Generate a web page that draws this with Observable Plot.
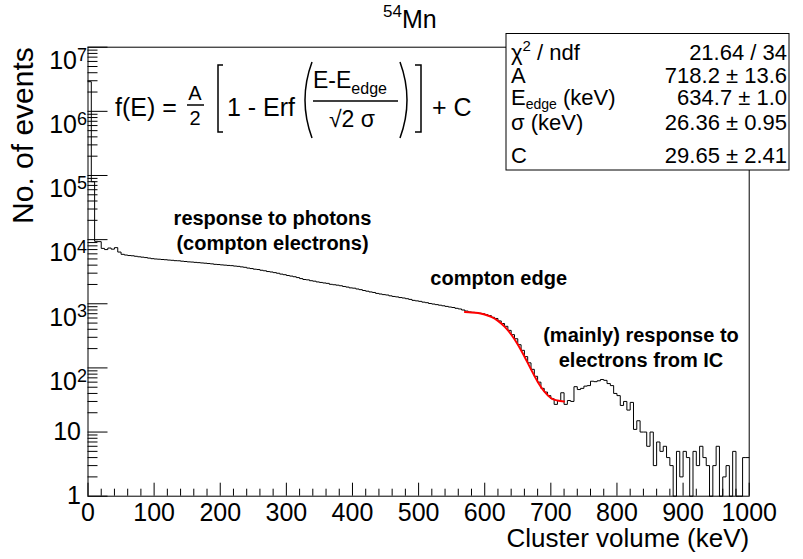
<!DOCTYPE html>
<html><head><meta charset="utf-8">
<script src="https://cdn.jsdelivr.net/npm/d3@7"></script>
<script src="https://cdn.jsdelivr.net/npm/@observablehq/plot@0.6"></script>
<style>
body{margin:0;background:#fff}
#wrap{position:relative;width:803px;height:559px;overflow:hidden;background:#fff}
svg text{font-family:"Liberation Sans",Arial,Helvetica,sans-serif}
</style></head>
<body><div id="wrap"></div>
<script>
// ---- data ----
const binWidth = 5; // keV
const counts = [
 2900000, 80000, 9400, 9300, 7300, 7000, 7400, 7100, 7500, 6400,
 5900, 5750, 5650, 5600, 5500, 5400, 5330, 5250, 5150, 5050,
 4990, 4950, 4900, 4860, 4800, 4760, 4700, 4680, 4610, 4560,
 4500, 4470, 4420, 4380, 4330, 4290, 4240, 4190, 4120, 4090,
 4040, 4000, 3960, 3930, 3870, 3830, 3760, 3700, 3600, 3540,
 3460, 3420, 3330, 3270, 3180, 3130, 3060, 2990, 2900, 2840,
 2760, 2700, 2640, 2560, 2470, 2390, 2360, 2290, 2250, 2190,
 2150, 2110, 2080, 2010, 1980, 1950, 1910, 1860, 1820, 1770,
 1750, 1700, 1660, 1610, 1570, 1530, 1500, 1450, 1420, 1390,
 1370, 1330, 1300, 1280, 1250, 1230, 1200, 1170, 1130, 1110,
 1090, 1060, 1040, 1010, 990, 970, 950, 930, 910, 890,
 875, 850, 830, 800, 770, 745, 735, 728, 712, 700,
 676, 655, 615, 590, 540, 492, 445, 385, 330, 285,
 230, 188, 150, 120, 95, 74, 60, 48, 42, 37,
 33, 27, 31, 41, 27, 31, 30, 51, 46, 48,
 52, 53, 62, 61, 63, 66, 64, 57, 53, 40,
 37, 26, 30, 22, 29, 11, 15, 10, 10, 6,
 10, 3, 7, 5, 6, 4, 3, 0, 5, 2,
 5, 4, 0, 5, 3, 6, 4, 3, 0, 3,
 6, 0, 2, 3, 0, 5, 0, 0, 4, 4
];
// red fit curve f(E), sampled
const fitEnergy = [570, 580, 590, 600, 610, 620, 630, 640, 650, 660, 670, 680, 690, 700, 710, 720];
const fitValue  = [743, 734, 716, 680, 623, 541, 440, 332, 232, 151, 95, 61, 43, 34, 31, 30];

const xTickValues = [0, 100, 200, 300, 400, 500, 600, 700, 800, 900, 1000];
const yTickValues = [1, 10, 100, 1e3, 1e4, 1e5, 1e6, 1e7];

const titleSup = "54", titleMain = "Mn";
const xTitle = "Cluster volume (keV)";
const yTitle = "No. of events";

const statNames = ["χ|2| / ndf", "A", "E_edge_ (keV)", "σ (keV)", "C"];
const statValues = ["21.64 / 34", "718.2 ± 13.6", "634.7 ± 1.0", "26.36 ± 0.95", "29.65 ± 2.41"];

const noteLines1 = ["response to photons", "(compton electrons)"];
const noteLines2 = ["compton edge"];
const noteLines3 = ["(mainly) response to", "electrons from IC"];

// ---- layout ----
const W = 803, H = 559, mL = 87.5, mR = 54.3, mT = 46.7, mB = 63.3;
const fw = W - mL - mR, fh = H - mT - mB;
const FONT = '"Liberation Sans", Arial, Helvetica, sans-serif';

const histPts = counts.map((c, i) => ({x: i * binWidth, y: Math.max(c, 1)}));
histPts.push({x: counts.length * binWidth, y: Math.max(counts[counts.length - 1], 1)});
const fitPts = fitEnergy.map((e, i) => ({x: e, y: fitValue[i]}));

const yMinor = [];
for (let k = 0; k < 7; k++) for (let m = 2; m <= 9; m++) yMinor.push(m * 10 ** k);
const xMinor = d3.range(0, 1001, 20).filter(v => v % 100 !== 0);

const chart = Plot.plot({
  width: W, height: H,
  marginLeft: mL, marginRight: mR, marginTop: mT, marginBottom: mB,
  style: {fontFamily: FONT, fontSize: "25px", color: "#000", background: "#fff", overflow: "visible"},
  x: {domain: [0, 1000]},
  y: {type: "log", domain: [1, 1e7]},
  marks: [
    Plot.line(histPts, {x: "x", y: "y", curve: "step-after", stroke: "#000", strokeWidth: 1}),
    Plot.line(fitPts, {x: "x", y: "y", curve: "monotone-x", stroke: "#ff0000", strokeWidth: 2}),
    Plot.tickY(yTickValues, {y: d => d, insetRight: fw - 20, stroke: "#000"}),
    Plot.tickY(yMinor, {y: d => d, insetRight: fw - 10, stroke: "#000"}),
    Plot.tickX(xTickValues, {x: d => d, insetTop: fh - 13, stroke: "#000"}),
    Plot.tickX(xMinor, {x: d => d, insetTop: fh - 7, stroke: "#000"}),
    Plot.frame({stroke: "#000"}),
    Plot.axisX({ticks: xTickValues, tickSize: 0, tickPadding: 7, tickFormat: d => String(d), fontSize: 25, label: null}),
    Plot.axisY({ticks: yTickValues, tickSize: 0, tickPadding: 1, fontSize: 25, label: null,
      tickFormat: d => { const e = Math.round(Math.log10(d)); return e === 0 ? "1" : e === 1 ? "10" : "10^" + e; }}),
    Plot.text([xTitle], {text: d => d, frameAnchor: "bottom-right", textAnchor: "end", dy: 51, fontSize: 26}),
    Plot.text([yTitle], {text: d => d, frameAnchor: "top-left", textAnchor: "end", rotate: -90, dx: -76, fontSize: 30})
  ]
});
document.getElementById("wrap").appendChild(chart);

const svg = d3.select(chart);
// superscripts in y tick labels
svg.selectAll('g[aria-label="y-axis tick label"] text').each(function() {
  const t = d3.select(this), s = t.text();
  if (s.includes("^")) {
    const [b, e] = s.split("^");
    t.text(null);
    t.append("tspan").text(b);
    t.append("tspan").attr("dy", "-0.45em").attr("font-size", "18px").text(e);
    t.attr("dy", "0.55em");
  } else {
    t.attr("dx", "-6");
  }
});

const ov = svg.append("g").attr("font-family", FONT).attr("fill", "#000").attr("text-anchor", "start");

// title
const tt = ov.append("text").attr("x", 383).attr("y", 28).attr("font-size", 25);
tt.append("tspan").attr("font-size", 17).attr("dy", -11).text(titleSup);
tt.append("tspan").attr("dy", 11).text(titleMain);

// formula
const fs = 25;
ov.append("text").attr("x", 115).attr("y", 116).attr("font-size", fs).text("f(E) =");
ov.append("text").attr("x", 195).attr("y", 100).attr("font-size", 20).attr("text-anchor", "middle").text("A");
ov.append("line").attr("x1", 187).attr("x2", 204).attr("y1", 105).attr("y2", 105).attr("stroke", "#000").attr("stroke-width", 1.5);
ov.append("text").attr("x", 195).attr("y", 125).attr("font-size", 20).attr("text-anchor", "middle").text("2");
ov.append("path").attr("d", "M223,65H218V132H223").attr("fill", "none").attr("stroke", "#000").attr("stroke-width", 1.5);
ov.append("text").attr("x", 227).attr("y", 116).attr("font-size", fs).text("1 - Erf");
ov.append("path").attr("d", "M312,62Q298,100 312,138").attr("fill", "none").attr("stroke", "#000").attr("stroke-width", 1.5);
const num = ov.append("text").attr("x", 313).attr("y", 88).attr("font-size", 23);
num.append("tspan").text("E-E");
num.append("tspan").attr("font-size", 16).attr("dy", 6).text("edge");
ov.append("line").attr("x1", 313).attr("x2", 398).attr("y1", 101).attr("y2", 101).attr("stroke", "#000").attr("stroke-width", 1.5);
ov.append("text").attr("x", 329).attr("y", 127).attr("font-size", 23).text("√2 σ");
ov.append("path").attr("d", "M400,62Q414,100 400,138").attr("fill", "none").attr("stroke", "#000").attr("stroke-width", 1.5);
ov.append("path").attr("d", "M415,65H421V132H415").attr("fill", "none").attr("stroke", "#000").attr("stroke-width", 1.5);
ov.append("text").attr("x", 432).attr("y", 116).attr("font-size", fs).text("+ C");

// stats box
ov.append("rect").attr("x", 506).attr("y", 33.5).attr("width", 283).attr("height", 136.5)
  .attr("fill", "#fff").attr("stroke", "#000").attr("stroke-width", 1);
const rowY = [60, 83, 105, 130, 163];
statNames.forEach((n, i) => {
  const t = ov.append("text").attr("x", 511).attr("y", rowY[i]).attr("font-size", 22);
  if (n.includes("|")) {
    const p = n.split("|");
    t.append("tspan").text(p[0]);
    t.append("tspan").attr("font-size", 15).attr("dy", -9).text(p[1]);
    t.append("tspan").attr("dy", 9).text(p[2]);
  } else if (n.includes("_")) {
    const p = n.split("_");
    t.append("tspan").text(p[0]);
    t.append("tspan").attr("font-size", 14).attr("dy", 4).text(p[1]);
    t.append("tspan").attr("dy", -4).text(p[2]);
  } else t.text(n);
  ov.append("text").attr("x", 787).attr("y", rowY[i]).attr("font-size", 22).attr("text-anchor", "end").text(statValues[i]);
});

// annotations
const note = (lines, cx, y0) => lines.forEach((s, i) =>
  ov.append("text").attr("x", cx).attr("y", y0 + i * 25).attr("font-size", 20).attr("font-weight", "bold")
    .attr("text-anchor", "middle").text(s));
note(noteLines1, 272.5, 225);
note(noteLines2, 498.7, 285);
note(noteLines3, 641, 342);
</script>
</body></html>
